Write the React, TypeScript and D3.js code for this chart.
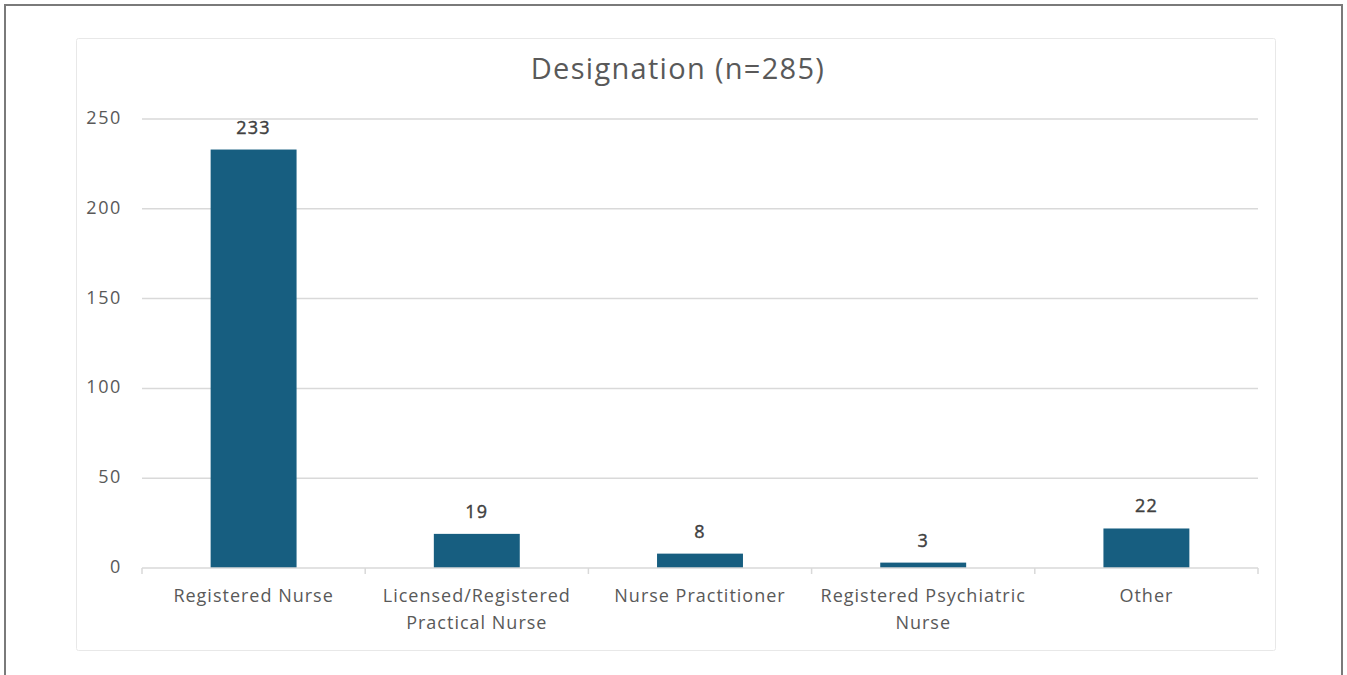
import React, { useEffect, useRef } from 'react';
import * as d3 from 'd3';

const categories = [
  ['Registered Nurse'],
  ['Licensed/Registered', 'Practical Nurse'],
  ['Nurse Practitioner'],
  ['Registered Psychiatric', 'Nurse'],
  ['Other'],
];
const counts = [233, 19, 8, 3, 22];
const yTicks = [0, 50, 100, 150, 200, 250];
const title = 'Designation (n=285)';

export default function App() {
  const ref = useRef<SVGSVGElement>(null);

  useEffect(() => {
    if (!ref.current) return;
    const H = 675;
    const left = 142, right = 1258, top = 119, bottom = 568;
    const font = '"Open Sans", "Liberation Sans", Arial, sans-serif';
    const grey = '#595959';

    const svg = d3.select(ref.current);
    svg.selectAll('*').remove();

    // outer frame (bottom edge runs off the picture)
    svg.append('path')
      .attr('d', `M5,${H} L5,5 L1342,5 L1342,${H}`)
      .attr('fill', 'none').attr('stroke', '#7a7a7a').attr('stroke-width', 2);

    // chart area
    svg.append('rect')
      .attr('x', 76.5).attr('y', 38.5).attr('width', 1199).attr('height', 612)
      .attr('rx', 2).attr('fill', '#fff').attr('stroke', '#e8e8e8');

    svg.append('text')
      .attr('x', 678).attr('y', 79)
      .attr('text-anchor', 'middle')
      .attr('font-family', font).attr('font-size', 29).attr('letter-spacing', 1.3)
      .attr('fill', grey)
      .text(title);

    const x = d3.scaleBand<number>()
      .domain(d3.range(counts.length))
      .range([left, right])
      .paddingInner(0.615).paddingOuter(0.3075);
    const y = d3.scaleLinear().domain([0, 250]).range([bottom, top]);

    // gridlines
    svg.append('g')
      .selectAll('line')
      .data(yTicks.slice(1))
      .enter().append('line')
      .attr('x1', left).attr('x2', right)
      .attr('y1', d => y(d)).attr('y2', d => y(d))
      .attr('stroke', '#d9d9d9').attr('stroke-width', 1.5);

    // y labels
    svg.append('g')
      .selectAll('text')
      .data(yTicks)
      .enter().append('text')
      .attr('x', 122).attr('y', d => y(d) + 5)
      .attr('text-anchor', 'end')
      .attr('font-family', font).attr('font-size', 18).attr('letter-spacing', 1.6)
      .attr('fill', grey)
      .text(d => d);

    // bars
    svg.append('g')
      .selectAll('rect')
      .data(counts)
      .enter().append('rect')
      .attr('x', (d, i) => x(i)!)
      .attr('width', x.bandwidth())
      .attr('y', d => y(d))
      .attr('height', d => y(0) - y(d))
      .attr('fill', '#175e80');

    // value labels
    svg.append('g')
      .selectAll('text')
      .data(counts)
      .enter().append('text')
      .attr('x', (d, i) => x(i)! + x.bandwidth() / 2)
      .attr('y', d => y(d) - 16)
      .attr('text-anchor', 'middle')
      .attr('font-family', font).attr('font-size', 18)
      .attr('letter-spacing', 1.2)
      .attr('stroke', '#404040').attr('stroke-width', 0.4)
      .attr('fill', '#404040')
      .text(d => d);

    // x axis line and ticks
    svg.append('line')
      .attr('x1', left).attr('x2', right)
      .attr('y1', bottom).attr('y2', bottom)
      .attr('stroke', '#d9d9d9').attr('stroke-width', 1.5);
    const step = (right - left) / counts.length;
    svg.append('g')
      .selectAll('line')
      .data(d3.range(counts.length + 1))
      .enter().append('line')
      .attr('x1', i => left + i * step).attr('x2', i => left + i * step)
      .attr('y1', bottom).attr('y2', bottom + 6)
      .attr('stroke', '#d9d9d9').attr('stroke-width', 1.5);

    // category labels
    const cat = svg.append('g')
      .selectAll('text')
      .data(categories)
      .enter().append('text')
      .attr('text-anchor', 'middle')
      .attr('font-family', font).attr('font-size', 18).attr('letter-spacing', 1)
      .attr('fill', grey);
    cat.selectAll('tspan')
      .data((d, i) => d.map(line => ({ line, i })))
      .enter().append('tspan')
      .attr('x', d => x(d.i)! + x.bandwidth() / 2)
      .attr('y', (d, j) => 602 + j * 27)
      .text(d => d.line);
  }, []);

  return (
    <svg
      ref={ref}
      width={1347}
      height={675}
      style={{ position: 'absolute', left: 0, top: 0, background: '#fff' }}
    />
  );
}
